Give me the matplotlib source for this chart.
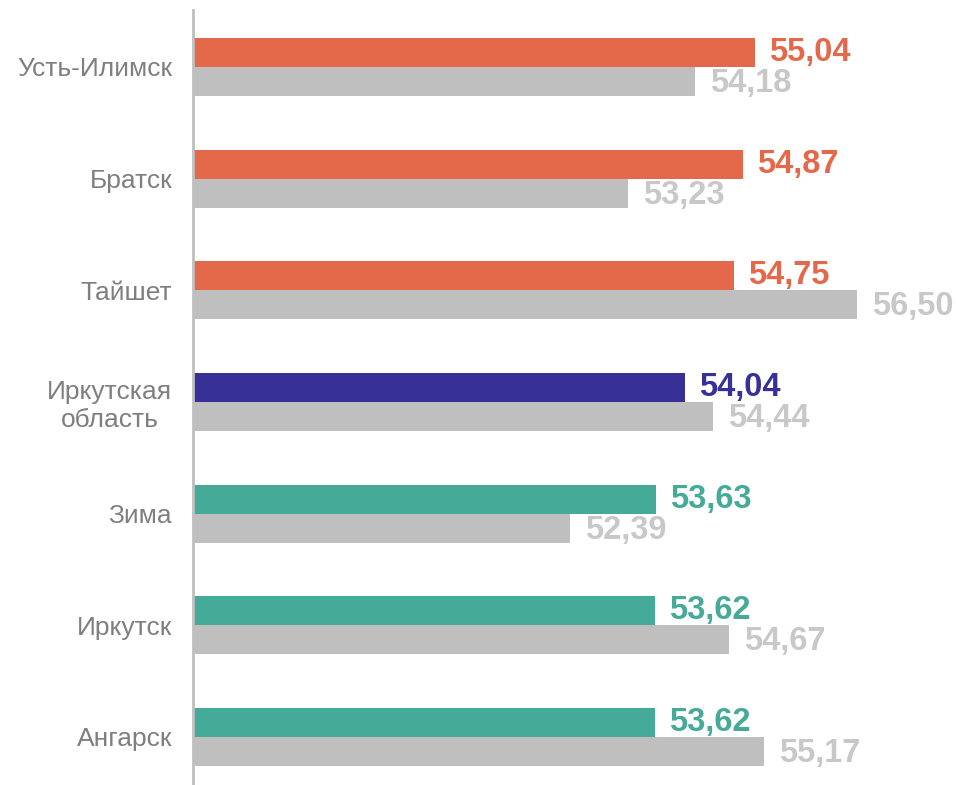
import matplotlib
matplotlib.use("Agg")
import matplotlib.pyplot as plt
from matplotlib.transforms import offset_copy

categories = ["Усть-Илимск", "Братск", "Тайшет", "Иркутская\nобласть", "Зима", "Иркутск", "Ангарск"]
current = [55.04, 54.87, 54.75, 54.04, 53.63, 53.62, 53.62]
previous = [54.18, 53.23, 56.50, 54.44, 52.39, 54.67, 55.17]
current_colors = ["#E4694A", "#E4694A", "#E4694A", "#373096", "#45AA97", "#45AA97", "#45AA97"]
gray = "#BFBFBF"

plt.rcParams['font.family'] = ['Liberation Sans', 'DejaVu Sans']

fig = plt.figure(figsize=(9.56, 7.85), dpi=100)
ax = fig.add_axes([193/956, 0, (930-193)/956, 775/785])

x0 = 47.0
h = 0.26
ys = list(range(len(categories)))

for i, (c, p, col) in enumerate(zip(current, previous, current_colors)):
    ax.barh(i - h/2, c - x0, height=h, left=x0, color=col)
    ax.barh(i + h/2, p - x0, height=h, left=x0, color=gray)
    t1 = offset_copy(ax.transData, fig=fig, x=14, y=0, units='dots')
    ax.text(c, i - h/2, f"{c:.2f}".replace('.', ','), transform=t1, ha='left', va='center',
            fontsize=23.5, fontweight='bold', color=col)
    t2 = offset_copy(ax.transData, fig=fig, x=15, y=-2, units='dots')
    ax.text(p, i + h/2, f"{p:.2f}".replace('.', ','), transform=t2, ha='left', va='center',
            fontsize=23.5, fontweight='bold', color="#C8C8C8")

ax.set_xlim(x0, 57.55)
ax.set_ylim(6.43, -0.51)
ax.set_yticks(ys)
ax.set_yticklabels(categories, fontsize=19, color="#7F7F7F", multialignment='center')
ax.tick_params(axis='y', length=0, pad=15)
ax.set_xticks([])
for s in ['top', 'right', 'bottom']:
    ax.spines[s].set_visible(False)
ax.spines['left'].set_color("#BFBFBF")
ax.spines['left'].set_linewidth(2)

fig.savefig("out.png", dpi=100)
